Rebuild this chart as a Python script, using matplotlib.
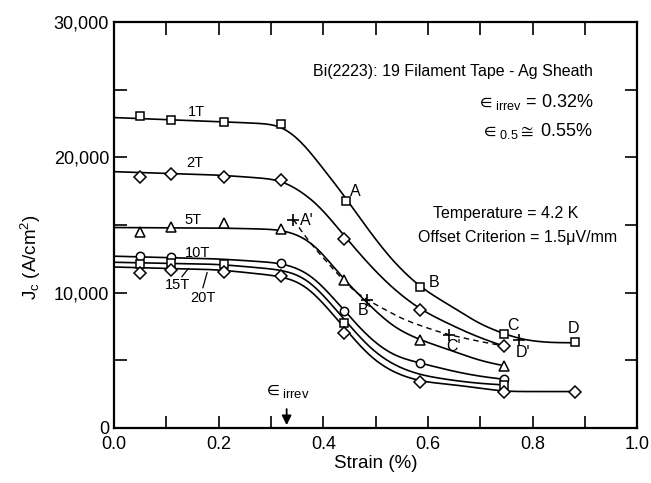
import numpy as np
import matplotlib
matplotlib.use("Agg")
import matplotlib.pyplot as plt

plt.rcParams["font.family"] = ["Liberation Sans", "DejaVu Sans"]
plt.rcParams["mathtext.fontset"] = "custom"
plt.rcParams["mathtext.rm"] = "Liberation Sans"
plt.rcParams["mathtext.it"] = "Liberation Sans:italic"
plt.rcParams["mathtext.fallback"] = "stixsans"

# measured points (strain %, Jc A/cm2)
x_1T = [0.05, 0.11, 0.21, 0.32, 0.444, 0.585, 0.745, 0.88]
y_1T = [23100, 22740, 22590, 22440, 16800, 10400, 6960, 6320]
x_2T = [0.05, 0.11, 0.21, 0.32, 0.44, 0.585, 0.745]
y_2T = [18520, 18800, 18590, 18370, 14000, 8740, 6050]
x_5T = [0.05, 0.11, 0.21, 0.32, 0.44, 0.585, 0.745]
y_5T = [14520, 14890, 15180, 14700, 10960, 6500, 4600]
x_10T = [0.05, 0.11, 0.32, 0.44, 0.585, 0.745]
y_10T = [12740, 12670, 12200, 8620, 4800, 3600]
x_15T = [0.05, 0.11, 0.21, 0.44, 0.745]
y_15T = [12100, 12220, 12150, 7760, 3200]
x_20T = [0.05, 0.11, 0.21, 0.32, 0.44, 0.585, 0.745, 0.88]
y_20T = [11480, 11700, 11560, 11220, 7010, 3430, 2690, 2690]

# hand-drawn fit curves (knots)
cx_1T = [0.0, 0.2, 0.32, 0.363, 0.395, 0.427, 0.49, 0.535, 0.586, 0.65, 0.70, 0.745, 0.778, 0.83, 0.88]
cy_1T = [22950, 22650, 22450, 21090, 19360, 17880, 14420, 12200, 10350, 8870, 7630, 6960, 6520, 6300, 6300]
cx_2T = [0.0, 0.2, 0.32, 0.363, 0.395, 0.427, 0.49, 0.535, 0.585, 0.65, 0.70, 0.745]
cy_2T = [18950, 18700, 18370, 17380, 16390, 14790, 11950, 10220, 8740, 7500, 6640, 6050]
cx_5T = [0.0, 0.2, 0.32, 0.363, 0.395, 0.427, 0.49, 0.535, 0.585, 0.65, 0.70, 0.745]
cy_5T = [14820, 14780, 14680, 14170, 13190, 11460, 8990, 7380, 6500, 5650, 4950, 4600]
cx_10T = [0.0, 0.2, 0.32, 0.363, 0.395, 0.427, 0.49, 0.535, 0.585, 0.65, 0.70, 0.745]
cy_10T = [12700, 12500, 12200, 11700, 10720, 9240, 6520, 5280, 4800, 4170, 3800, 3600]
cx_15T = [0.0, 0.2, 0.32, 0.363, 0.395, 0.427, 0.49, 0.535, 0.585, 0.65, 0.70, 0.745]
cy_15T = [12250, 12100, 11700, 11250, 10100, 8600, 5800, 4600, 3900, 3500, 3280, 3180]
cx_20T = [0.0, 0.2, 0.32, 0.363, 0.395, 0.427, 0.49, 0.535, 0.585, 0.65, 0.70, 0.745, 0.88]
cy_20T = [11900, 11700, 11220, 10720, 9480, 8000, 5160, 4050, 3430, 3190, 2940, 2690, 2690]

# offset-criterion curve A'..D'
x_prime = [0.343, 0.483, 0.640, 0.773]
y_prime = [15410, 9480, 6890, 6520]
labels_prime = ["A'", "B'", "C'", "D'"]
cx_dash = [0.343, 0.369, 0.414, 0.458, 0.483, 0.554, 0.618, 0.640, 0.714, 0.733]
cy_dash = [15410, 13930, 11950, 10100, 9480, 8000, 7130, 6890, 6270, 6150]


def smooth(xk, yk, sigma=0.022, step=0.001):
    # linear through the knots, then gaussian smoothed (hand-drawn look)
    xs = np.arange(xk[0], xk[-1] + step / 2, step)
    ys = np.interp(xs, xk, yk)
    npad = int(4 * sigma / step)
    sl = (ys[1] - ys[0]) / step
    sr = (ys[-1] - ys[-2]) / step
    left = ys[0] - sl * step * np.arange(npad, 0, -1)
    right = ys[-1] + sr * step * np.arange(1, npad + 1)
    yp = np.concatenate([left, ys, right])
    k = np.arange(-npad, npad + 1) * step
    w = np.exp(-0.5 * (k / sigma) ** 2)
    w /= w.sum()
    yc = np.convolve(yp, w, mode="same")[npad:-npad]
    return xs, yc


fig = plt.figure(figsize=(6.51, 4.83), dpi=100)
ax = fig.add_axes([0.175, 0.114, 0.804, 0.84])

curves = [(cx_1T, cy_1T), (cx_2T, cy_2T), (cx_5T, cy_5T),
          (cx_10T, cy_10T), (cx_15T, cy_15T), (cx_20T, cy_20T)]
for cx, cy in curves:
    xs, ys = smooth(cx, cy)
    ax.plot(xs, ys, color="black", lw=1.2, zorder=2)

xs, ys = smooth(cx_dash, cy_dash, sigma=0.015)
ax.plot(xs, ys, color="black", lw=1.0, ls=(0, (4, 3)), zorder=2)

mk = dict(mfc="white", mec="black", mew=1.1, ls="none", zorder=3)
ax.plot(x_1T, y_1T, marker="s", ms=6, **mk)
ax.plot(x_2T, y_2T, marker="D", ms=6, **mk)
ax.plot(x_5T, y_5T, marker="^", ms=7, **mk)
ax.plot(x_10T, y_10T, marker="o", ms=6, **mk)
ax.plot(x_15T, y_15T, marker="s", ms=5.5, **mk)
ax.plot(x_20T, y_20T, marker="D", ms=6, **mk)
ax.plot(x_prime, y_prime, marker="+", ms=8, mew=1.2, color="black",
        ls="none", zorder=4)

# curve labels
fs = 10.5
ax.text(0.157, 23330, "1T", fontsize=fs, ha="center", va="center")
ax.text(0.155, 19560, "2T", fontsize=fs, ha="center", va="center")
ax.text(0.151, 15410, "5T", fontsize=fs, ha="center", va="center")
ax.text(0.159, 12960, "10T", fontsize=fs, ha="center", va="center")
ax.text(0.121, 10590, "15T", fontsize=fs, ha="center", va="center")
ax.text(0.170, 9630, "20T", fontsize=fs, ha="center", va="center")
ax.plot([0.130, 0.142], [11185, 11780], color="black", lw=0.9)
ax.plot([0.170, 0.178], [10370, 11480], color="black", lw=0.9)

# point letters
for s, (tx, ty) in zip(["A", "B", "C", "D"],
                       [(0.462, 17480), (0.611, 10740), (0.762, 7560), (0.879, 7330)]):
    ax.text(tx, ty, s, fontsize=11.5, ha="center", va="center")
for s, (tx, ty) in zip(labels_prime,
                       [(0.368, 15330), (0.479, 8670), (0.649, 6000), (0.782, 5560)]):
    ax.text(tx, ty, s, fontsize=11.5, ha="center", va="center")

# annotations
ax.text(0.916, 26370, "Bi(2223): 19 Filament Tape - Ag Sheath", fontsize=11.5,
        ha="right", va="center")
ax.text(0.916, 24070, r"$\in_{\mathrm{irrev}}$ = 0.32%", fontsize=13,
        ha="right", va="center")
ax.text(0.916, 21930, r"$\in_{\mathrm{0.5}}\cong$ 0.55%", fontsize=13,
        ha="right", va="center")
ax.text(0.749, 15850, "Temperature = 4.2 K", fontsize=11.5, ha="center", va="center")
ax.text(0.772, 14070, "Offset Criterion = 1.5\u03bcV/mm", fontsize=11.5,
        ha="center", va="center")

ax.annotate("", xy=(0.330, 0), xytext=(0.330, 1600),
            arrowprops=dict(arrowstyle="-|>", color="black", lw=1.3,
                            mutation_scale=14))
ax.text(0.330, 2750, r"$\in_{\mathrm{irrev}}$", fontsize=13.5, ha="center",
        va="center")

ax.set_xlim(0, 1.0)
ax.set_ylim(0, 30000)
ax.set_xticks(np.arange(0, 1.01, 0.2))
ax.set_xticks(np.arange(0.1, 1.0, 0.2), minor=True)
ax.set_yticks(np.arange(0, 30001, 10000))
ax.set_yticks(np.arange(5000, 30000, 10000), minor=True)
ax.set_yticklabels(["0", "10,000", "20,000", "30,000"])
ax.tick_params(which="both", direction="in", length=9, width=1.2,
               top=True, right=True, labelsize=13)
ax.tick_params(axis="x", pad=6)
for sp in ax.spines.values():
    sp.set_linewidth(1.6)

ax.set_xlabel("Strain (%)", fontsize=13.5, labelpad=1)
ax.set_ylabel(r"J$_\mathregular{c}$ (A/cm$^\mathregular{2}$)", fontsize=13.5)
ax.yaxis.set_label_coords(-0.135, 0.42)

fig.savefig("out.png", dpi=100)
